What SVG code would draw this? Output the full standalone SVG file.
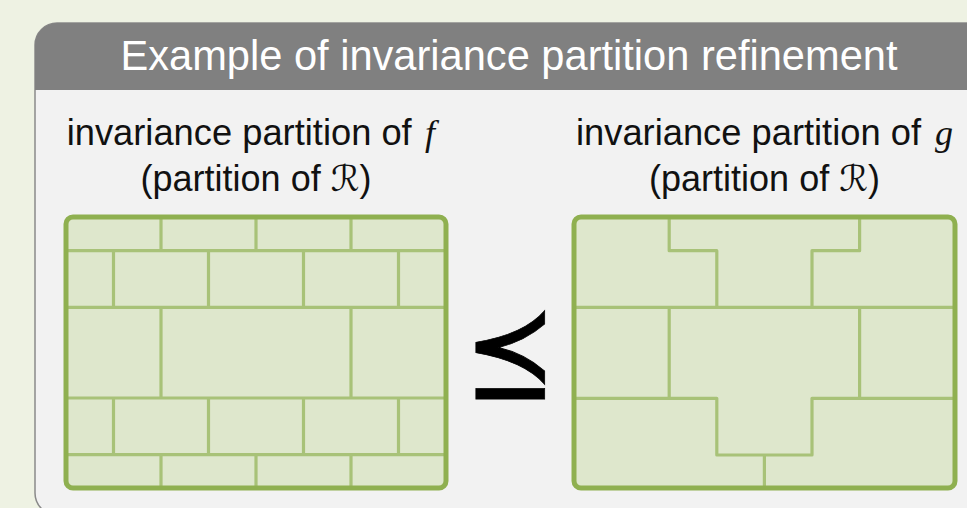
<svg xmlns="http://www.w3.org/2000/svg" width="967" height="508" viewBox="0 0 967 508">
<style>
.bg{fill:#eef2e3}
.box{fill:#f2f2f2;stroke:#8a8a8a;stroke-width:1.5}
.bar{fill:#808080}
.title{font-family:"Liberation Sans",Arial,sans-serif;font-size:41.6px;fill:#ffffff}
.lbl{font-family:"Liberation Sans",Arial,sans-serif;font-size:36px;fill:#111111}
.math{font-family:"Liberation Serif","Times New Roman",serif;font-style:italic}
.cal{font-family:"DejaVu Serif","DejaVu Sans",serif;font-style:italic}
.cell{fill:#dee7cc;stroke:none}
.frame{fill:none;stroke:#8fb050;stroke-width:5}
.in{fill:none;stroke:#a8c278;stroke-width:3.2;stroke-linejoin:round;stroke-linecap:butt}
.rel{font-family:"DejaVu Sans","Noto Sans",sans-serif;fill:#000000;stroke:#000000;stroke-width:0.8}
</style>
<rect class="bg" x="0" y="0" width="967" height="508"/>
<g id="panel">
<rect class="box" x="35" y="23" width="970" height="492" rx="22"/>
<path class="bar" d="M35,90 V45 A22,22 0 0 1 57,23 H1005 V90 Z"/>
<text class="title" x="509" y="69.5" text-anchor="middle" textLength="777" lengthAdjust="spacingAndGlyphs">Example of invariance partition refinement</text>
</g>
<g id="label-f">
<text class="lbl" x="66.7" y="145" textLength="345" lengthAdjust="spacingAndGlyphs">invariance partition of</text>
<text class="lbl math" x="425" y="145">f</text>
<text class="lbl" x="256" y="191" text-anchor="middle">(partition of <tspan class="cal">ℛ</tspan>)</text>
</g>
<g id="label-g">
<text class="lbl" x="576" y="145" textLength="345" lengthAdjust="spacingAndGlyphs">invariance partition of</text>
<text class="lbl math" x="935" y="145">g</text>
<text class="lbl" x="764.5" y="191" text-anchor="middle">(partition of <tspan class="cal">ℛ</tspan>)</text>
</g>
<g id="partition-f">
<rect class="cell" x="66" y="217" width="380" height="271" rx="7"/>
<path class="in" d="M66,250.7H446M66,307.3H446M66,398H446M66,454.7H446
M161,217V250.7M256,217V250.7M351,217V250.7
M113.5,250.7V307.3M208.5,250.7V307.3M303.5,250.7V307.3M398.5,250.7V307.3
M161,307.3V398M351,307.3V398
M113.5,398V454.7M208.5,398V454.7M303.5,398V454.7M398.5,398V454.7
M161,454.7V488M256,454.7V488M351,454.7V488"/>
<rect class="frame" x="66" y="217" width="380" height="271" rx="7"/>
</g>
<g id="relation">
<text class="rel" transform="translate(510,396) scale(0.86,1)" x="0" y="0" text-anchor="middle" font-size="128">⪯</text>
</g>
<g id="partition-g">
<rect class="cell" x="574" y="217" width="381" height="271" rx="7"/>
<path class="in" d="M669.2,217V250.7H716.8V307.3M859.6,217V250.7H812V307.3
M574,307.3H955
M669.2,307.3V398.3M859.6,307.3V398.3
M574,398.3H716.8V455H812V398.3H955
M764.4,455V488"/>
<rect class="frame" x="574" y="217" width="381" height="271" rx="7"/>
</g>
<g id="connectors"/>
</svg>
